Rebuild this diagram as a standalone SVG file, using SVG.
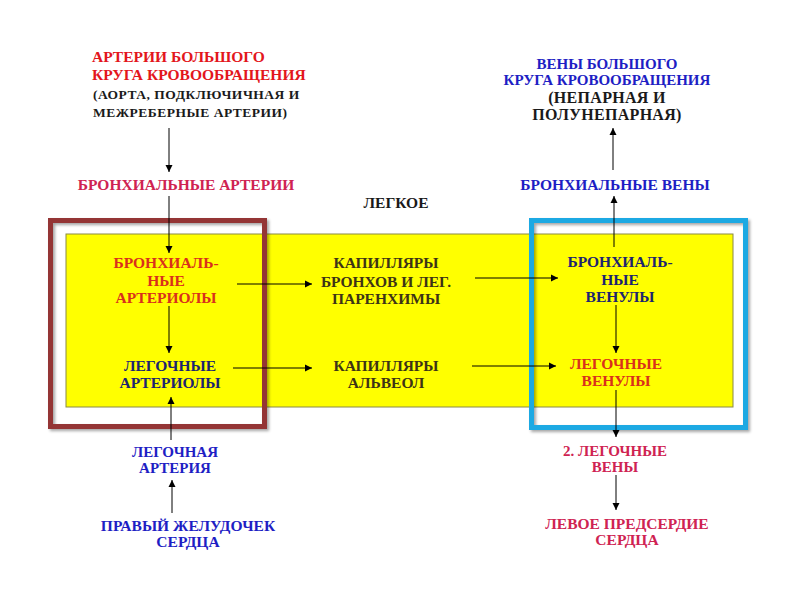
<svg xmlns="http://www.w3.org/2000/svg" width="800" height="600" viewBox="0 0 800 600">
<defs>
<marker id="ah" viewBox="0 0 10 10" refX="10" refY="5" markerWidth="7" markerHeight="9" markerUnits="userSpaceOnUse" orient="auto">
<path d="M0,0 L10,5 L0,10 Z" fill="#000"/>
</marker>
<filter id="sh" x="-10%" y="-10%" width="120%" height="120%">
<feDropShadow dx="2" dy="2" stdDeviation="1.5" flood-color="#000" flood-opacity="0.35"/>
</filter>
</defs>
<style>
text{font-family:"Liberation Serif","Times New Roman","DejaVu Serif",serif;font-weight:bold;font-size:15.5px;text-anchor:middle}
.l{text-anchor:start}
.s{font-size:15px}
.xs{font-size:13.5px;letter-spacing:0.5px}
.lg{font-size:16px;letter-spacing:0.3px}
.red{fill:#e3161c}
.crim{fill:#cf2352}
.ored{fill:#d9301c}
.navy{fill:#1c2470}
.blue{fill:#1e1ec4}
.olive{fill:#3d3316}
.blk{fill:#1a1a1a}
.c{stroke:#000;stroke-width:1;fill:none;marker-end:url(#ah)}
</style>
<rect width="800" height="600" fill="#fff"/>
<g id="lung">
<rect x="66" y="234" width="667" height="173" fill="#ffff00" stroke="#8a8a45" stroke-width="1"/>
<text x="396" y="208" class="blk">ЛЕГКОЕ</text>
</g>
<g id="frame-left"><rect x="50.5" y="220.5" width="214" height="206" fill="none" stroke="#943634" stroke-width="5" filter="url(#sh)"/></g>
<g id="frame-right"><rect x="531.5" y="220.5" width="214" height="207" fill="none" stroke="#1da9e3" stroke-width="5" filter="url(#sh)"/></g>
<g id="connectors">
<line class="c" x1="169" y1="128" x2="169" y2="172"/>
<line class="c" x1="169" y1="196" x2="169" y2="253"/>
<line class="c" x1="169" y1="306" x2="169" y2="353"/>
<line class="c" x1="171" y1="440" x2="171" y2="397"/>
<line class="c" x1="172" y1="513" x2="172" y2="480"/>
<line class="c" x1="237" y1="284" x2="312" y2="284"/>
<line class="c" x1="233" y1="368" x2="312" y2="368"/>
<line class="c" x1="475" y1="278" x2="558" y2="278"/>
<line class="c" x1="472" y1="366" x2="556" y2="366"/>
<line class="c" x1="616" y1="305" x2="616" y2="353"/>
<line class="c" x1="616" y1="390" x2="616" y2="437"/>
<line class="c" x1="616" y1="475" x2="616" y2="510"/>
<line class="c" x1="614" y1="247" x2="614" y2="196"/>
<line class="c" x1="613" y1="170" x2="613" y2="128"/>
</g>
<g id="n-art-big">
<text x="92" y="62" class="l red">АРТЕРИИ БОЛЬШОГО</text>
<text x="92" y="80" class="l red">КРУГА КРОВООБРАЩЕНИЯ</text>
<text x="93" y="99" class="l blk xs">(АОРТА, ПОДКЛЮЧИЧНАЯ И</text>
<text x="93" y="117" class="l blk xs">МЕЖРЕБЕРНЫЕ АРТЕРИИ)</text>
</g>
<g id="n-bronch-art"><text x="186" y="190" class="crim">БРОНХИАЛЬНЫЕ АРТЕРИИ</text></g>
<g id="n-bronch-arteriol">
<text x="166" y="268" class="ored">БРОНХИАЛЬ-</text>
<text x="166" y="286" class="ored">НЫЕ</text>
<text x="166" y="303" class="ored">АРТЕРИОЛЫ</text>
</g>
<g id="n-pulm-arteriol">
<text x="170" y="371" class="navy">ЛЕГОЧНЫЕ</text>
<text x="170" y="388" class="navy">АРТЕРИОЛЫ</text>
</g>
<g id="n-cap-bronch">
<text x="386" y="268" class="olive">КАПИЛЛЯРЫ</text>
<text x="386" y="287" class="olive">БРОНХОВ И ЛЕГ.</text>
<text x="386" y="304" class="olive">ПАРЕНХИМЫ</text>
</g>
<g id="n-cap-alv">
<text x="386" y="371" class="olive">КАПИЛЛЯРЫ</text>
<text x="386" y="388" class="olive">АЛЬВЕОЛ</text>
</g>
<g id="n-bronch-venul">
<text x="620" y="267" class="navy">БРОНХИАЛЬ-</text>
<text x="620" y="285" class="navy">НЫЕ</text>
<text x="620" y="302" class="navy">ВЕНУЛЫ</text>
</g>
<g id="n-pulm-venul">
<text x="616" y="369" class="ored">ЛЕГОЧНЫЕ</text>
<text x="616" y="386" class="ored">ВЕНУЛЫ</text>
</g>
<g id="n-bronch-ven"><text x="615" y="190" class="blue">БРОНХИАЛЬНЫЕ ВЕНЫ</text></g>
<g id="n-ven-big">
<text x="607" y="69" class="blue s">ВЕНЫ БОЛЬШОГО</text>
<text x="607" y="85" class="blue s">КРУГА КРОВООБРАЩЕНИЯ</text>
<text x="607" y="103" class="blk lg">(НЕПАРНАЯ И</text>
<text x="607" y="120" class="blk lg">ПОЛУНЕПАРНАЯ)</text>
</g>
<g id="n-pulm-art">
<text x="175" y="457" class="blue s">ЛЕГОЧНАЯ</text>
<text x="175" y="473" class="blue s">АРТЕРИЯ</text>
</g>
<g id="n-right-vent">
<text x="188" y="531" class="blue">ПРАВЫЙ ЖЕЛУДОЧЕК</text>
<text x="188" y="547" class="blue">СЕРДЦА</text>
</g>
<g id="n-pulm-veins">
<text x="615" y="456" class="crim s">2. ЛЕГОЧНЫЕ</text>
<text x="615" y="472" class="crim s">ВЕНЫ</text>
</g>
<g id="n-left-atrium">
<text x="627" y="529" class="crim">ЛЕВОЕ ПРЕДСЕРДИЕ</text>
<text x="627" y="545" class="crim">СЕРДЦА</text>
</g>
</svg>
